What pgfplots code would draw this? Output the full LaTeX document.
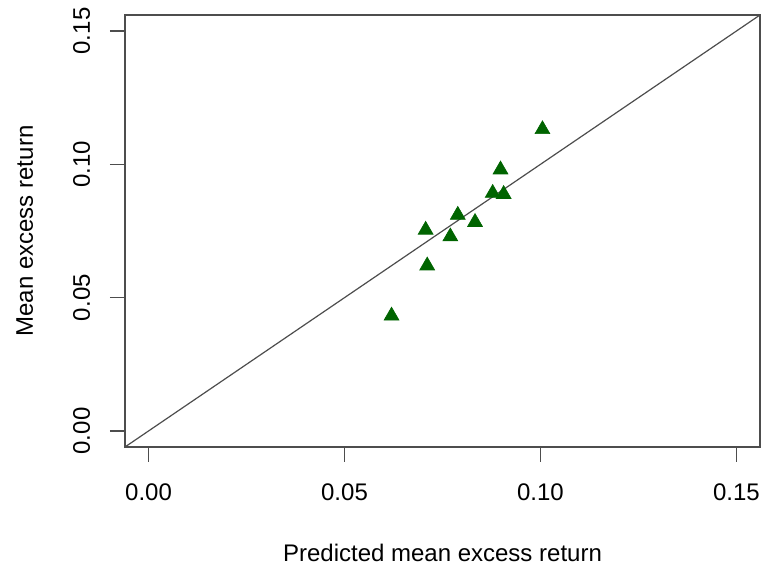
\documentclass[border=0pt]{standalone}
\usepackage{pgfplots}
\pgfplotsset{compat=1.18}
\usepackage{fontspec}
\setmainfont{Liberation Sans}
\definecolor{rgreen}{HTML}{006400}
\definecolor{rframe}{HTML}{4D4D4D}

\begin{document}
\begin{tikzpicture}
\path[use as bounding box] (-62.5pt,-59.5pt) rectangle (318.5pt,223.5pt);
\begin{axis}[
    scale only axis,
    width=317.5pt, height=216pt,
    xmin=-0.006, xmax=0.156,
    ymin=-0.006, ymax=0.156,
    xtick={0,0.05,0.10,0.15},
    ytick={0,0.05,0.10,0.15},
    xticklabels={0.00,0.05,0.10,0.15},
    yticklabels={0.00,0.05,0.10,0.15},
    xtick pos=bottom, ytick pos=left,
    tick align=outside,
    major tick length=7.5pt,
    axis line style={rframe, line width=0.8pt},
    tick style={rframe, line width=0.8pt},
    font=\fontsize{12}{14}\selectfont,
    xticklabel style={anchor=north, inner sep=0pt, yshift=-10.5pt},
    yticklabel style={xshift=-10pt, rotate=90, anchor=base, inner sep=0pt},
    xlabel={Predicted mean excess return},
    ylabel={Mean excess return},
    xlabel style={at={([yshift=-57.5pt]axis description cs:0.5,0)}, anchor=base, inner sep=0pt},
    ylabel style={at={([xshift=-46pt]axis description cs:0,0.5)}, rotate=0, anchor=base, inner sep=0pt},
]
\addplot[rframe, line width=0.6pt] coordinates {(-0.006,-0.006) (0.156,0.156)};
\addplot[only marks, mark=triangle*, mark size=4.3pt,
    mark options={fill=rgreen, draw=rgreen, line width=0.3pt}]
    coordinates {
    (0.1005,0.1131) (0.0898,0.0980) (0.0878,0.0892) (0.0906,0.0888)
    (0.0789,0.0810) (0.0833,0.0783) (0.0707,0.0754) (0.0770,0.0729)
    (0.0711,0.0620) (0.0620,0.0432)
    };
\end{axis}
\end{tikzpicture}
\end{document}
